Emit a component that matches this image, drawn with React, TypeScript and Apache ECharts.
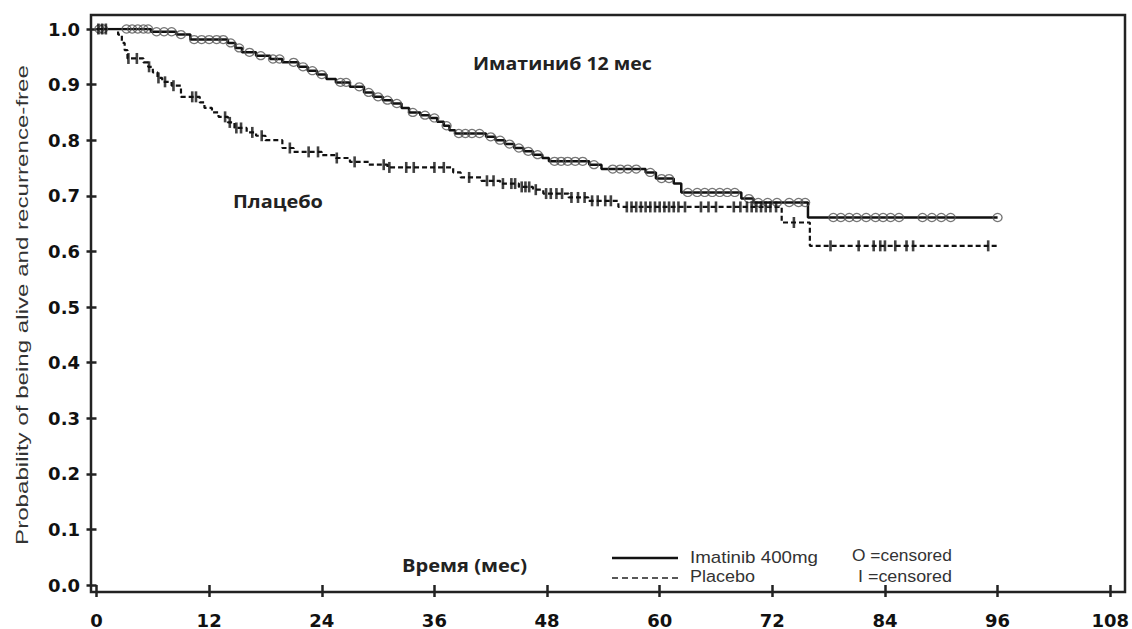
import React, { useEffect, useRef } from "react";
import * as echarts from "echarts";

// ---- Data ----
const xTickLabels = ["0", "12", "24", "36", "48", "60", "72", "84", "96", "108"];
const yTickLabels = ["0.0", "0.1", "0.2", "0.3", "0.4", "0.5", "0.6", "0.7", "0.8", "0.9", "1.0"];

const imatinibTimes = [0, 5.8, 8.5, 10, 14, 14.8, 15.5, 17, 18.5, 19.8, 21.5, 22.5, 23.5, 24.5, 25.5, 27, 28.5, 29.5, 30.5, 31.5, 32.5, 33.3, 34.5, 35.5, 36.3, 37, 37.6, 38.2, 41.5, 42.5, 43.5, 44.5, 45.5, 46.5, 47.5, 48.2, 52.5, 53.8, 58.5, 59.6, 61.5, 62.3, 68.7, 70, 75.8, 96];
const imatinibSurv = [1, 0.995, 0.99, 0.981, 0.975, 0.966, 0.958, 0.952, 0.946, 0.94, 0.932, 0.925, 0.918, 0.91, 0.904, 0.896, 0.886, 0.878, 0.872, 0.866, 0.858, 0.85, 0.845, 0.84, 0.833, 0.826, 0.818, 0.812, 0.806, 0.8, 0.793, 0.786, 0.78, 0.774, 0.768, 0.762, 0.756, 0.748, 0.742, 0.731, 0.722, 0.706, 0.695, 0.688, 0.661, 0.661];

const placeboTimes = [0, 2.3, 2.7, 3.0, 3.3, 5.0, 5.5, 6.0, 6.5, 7.0, 8.0, 9.0, 11.0, 11.5, 12.3, 13.0, 14.0, 14.7, 16.0, 17.0, 18.0, 19.8, 21.0, 24.0, 25.5, 27.0, 29.0, 31.0, 38.0, 38.8, 41.0, 43.0, 45.0, 46.5, 47.6, 50.3, 52.4, 55.6, 73.0, 76.0, 96.2];
const placeboSurv = [1, 0.99, 0.975, 0.962, 0.947, 0.94, 0.932, 0.922, 0.912, 0.905, 0.898, 0.878, 0.868, 0.858, 0.85, 0.842, 0.832, 0.822, 0.814, 0.808, 0.8, 0.786, 0.779, 0.773, 0.768, 0.761, 0.756, 0.751, 0.742, 0.733, 0.727, 0.722, 0.716, 0.711, 0.704, 0.697, 0.691, 0.68, 0.652, 0.61, 0.61];

const imatinibCensored = [0.3, 0.7, 3.2, 3.8, 4.4, 5.0, 5.5, 6.4, 7.2, 8.0, 9.0, 10.4, 11.2, 12.0, 12.8, 13.5, 14.3, 15.2, 16.3, 17.5, 18.8, 19.5, 21.0, 22.0, 23.0, 24.0, 26.0, 26.6, 28.0, 29.0, 30.0, 31.0, 32.0, 33.7, 35.0, 36.0, 37.3, 38.6, 39.3, 40.0, 40.8, 42.0, 43.0, 44.0, 45.0, 46.0, 47.0, 48.8, 49.5, 50.2, 51.0, 51.8, 53.0, 55.0, 55.8, 56.6, 57.5, 59.0, 60.2, 61.0, 63.0, 64.0, 64.8, 65.6, 66.4, 67.2, 68.0, 69.5, 70.5, 71.5, 72.5, 73.8, 74.8, 75.5, 78.5, 79.3, 80.2, 81.0, 82.0, 83.0, 83.8, 84.6, 85.5, 88.0, 89.0, 90.0, 91.0, 96.0];
const placeboCensored = [0.2, 0.6, 1.0, 3.4, 4.3, 5.6, 6.6, 7.3, 8.2, 10.2, 10.6, 13.7, 14.2, 14.9, 15.4, 16.6, 17.6, 20.6, 22.6, 23.6, 25.6, 27.5, 30.6, 31.2, 33.0, 33.8, 36.0, 37.0, 39.7, 41.6, 42.3, 43.3, 44.2, 44.6, 45.3, 45.7, 46.1, 46.8, 47.9, 48.4, 49.0, 49.6, 50.6, 51.3, 52.0, 52.8, 53.4, 54.2, 54.8, 56.5, 57.0, 57.5, 58.0, 58.5, 59.0, 59.5, 60.0, 60.5, 61.0, 61.5, 62.0, 62.7, 64.4, 65.2, 66.0, 67.9, 68.6, 69.3, 69.8, 70.3, 70.8, 71.3, 71.8, 72.4, 74.3, 78.2, 81.2, 82.8, 83.5, 84.0, 85.1, 86.3, 87.0, 95.0];

const seriesNames = ["Imatinib 400mg", "Placebo"];

// value of a KM step curve at time t
function stepAt(times: number[], surv: number[], t: number) {
  let v = surv[0];
  for (let i = 0; i < times.length; i++) {
    if (times[i] <= t) v = surv[i];
  }
  return v;
}

const ctx = typeof document !== "undefined" ? document.createElement("canvas").getContext("2d") : null;
function fitScale(text: string, font: string, width: number) {
  if (!ctx) return 1;
  ctx.font = font;
  const w = ctx.measureText(text).width;
  return w > 0 ? width / w : 1;
}

function txt(text: string, x: number, y: number, font: string, width: number, fill: string, align = "left", rotation = 0) {
  return {
    type: "text",
    x,
    y,
    rotation,
    scaleX: fitScale(text, font, width),
    silent: true,
    style: {
      text,
      font,
      fill,
      align,
      textAlign: align,
      verticalAlign: "middle",
      textVerticalAlign: "middle",
    },
  };
}

export default function App() {
  const ref = useRef<HTMLDivElement>(null);

  useEffect(() => {
    if (!ref.current) return;
    const chart = echarts.init(ref.current, null, { renderer: "svg" });

    const imLine = imatinibTimes.map((t, i) => [t, imatinibSurv[i]]);
    const plLine = placeboTimes.map((t, i) => [t, placeboSurv[i]]);
    const imCens = imatinibCensored.map((t) => [t, stepAt(imatinibTimes, imatinibSurv, t)]);
    const plCens = placeboCensored.map((t) => [t, stepAt(placeboTimes, placeboSurv, t)]);

    const regFont = '16px "Liberation Sans"';
    const ruFont = 'bold 17px "Open Sans"';

    const option: any = {
      animation: false,
      backgroundColor: "#ffffff",
      grid: { left: 96.5, right: 20, top: 29, bottom: 44, containLabel: false },
      xAxis: {
        type: "value",
        min: 0,
        max: 108,
        interval: 12,
        offset: 7,
        axisLine: { show: false },
        axisTick: { show: true, length: 12, lineStyle: { color: "#222", width: 2.5 } },
        axisLabel: {
          margin: 19,
          color: "#111",
          fontFamily: "DejaVu Sans",
          fontWeight: "bold",
          fontSize: 18,
          formatter: (v: number) => xTickLabels[Math.round(v / 12)] ?? "",
        },
        splitLine: { show: false },
      },
      yAxis: {
        type: "value",
        min: 0,
        max: 1,
        interval: 0.1,
        offset: 5.5,
        axisLine: { show: false },
        axisTick: { show: true, length: 10, lineStyle: { color: "#222", width: 2.5 } },
        axisLabel: {
          margin: 11,
          color: "#111",
          fontFamily: "DejaVu Sans",
          fontWeight: "bold",
          fontSize: 18,
          formatter: (v: number) => yTickLabels[Math.round(v * 10)] ?? "",
        },
        splitLine: { show: false },
      },
      series: [
        {
          name: seriesNames[0],
          type: "line",
          step: "end",
          data: imLine,
          showSymbol: false,
          lineStyle: { color: "#111", width: 2.5 },
          z: 3,
        },
        {
          name: seriesNames[1],
          type: "line",
          step: "end",
          data: plLine,
          showSymbol: false,
          lineStyle: { color: "#111", width: 2.2, type: [5, 3] },
          z: 3,
        },
        {
          name: "Imatinib censored",
          type: "scatter",
          data: imCens,
          symbol: "circle",
          symbolSize: [9, 8],
          itemStyle: { color: "rgba(0,0,0,0)", borderColor: "#555", borderWidth: 1.3 },
          z: 4,
        },
        {
          name: "Placebo censored",
          type: "scatter",
          data: plCens,
          symbol: "rect",
          symbolSize: [2.6, 11],
          itemStyle: { color: "#111" },
          z: 4,
        },
      ],
      graphic: [
        {
          type: "rect",
          silent: true,
          shape: { x: 91, y: 15, width: 1034, height: 577 },
          style: { fill: "none", stroke: "#222", lineWidth: 2.5 },
          z: 10,
        },
        txt("Probability of being alive and recurrence-free", 22, 305, '17px "Liberation Sans"', 480, "#333", "center", Math.PI / 2),
        txt("Иматиниб 12 мес", 473, 63, ruFont, 179, "#222"),
        txt("Плацебо", 233, 201, ruFont, 90, "#222"),
        txt("Время (мес)", 402, 565, ruFont, 125, "#222"),
        {
          type: "line",
          silent: true,
          shape: { x1: 612, y1: 558, x2: 678, y2: 558 },
          style: { stroke: "#111", lineWidth: 2.5 },
        },
        {
          type: "line",
          silent: true,
          shape: { x1: 612, y1: 578, x2: 678, y2: 578 },
          style: { stroke: "#222", lineWidth: 1.5, lineDash: [6, 4] },
        },
        txt(seriesNames[0], 690, 557, regFont, 128, "#333"),
        txt(seriesNames[1], 690, 577, regFont, 65, "#333"),
        txt("O =censored", 852, 556, regFont, 100, "#333"),
        txt("I =censored", 858, 577, regFont, 94, "#333"),
      ],
    };

    chart.setOption(option);
    return () => chart.dispose();
  }, []);

  return (
    <div
      ref={ref}
      style={{ position: "fixed", left: 0, top: 0, width: 1132, height: 629, background: "#fff" }}
    />
  );
}
